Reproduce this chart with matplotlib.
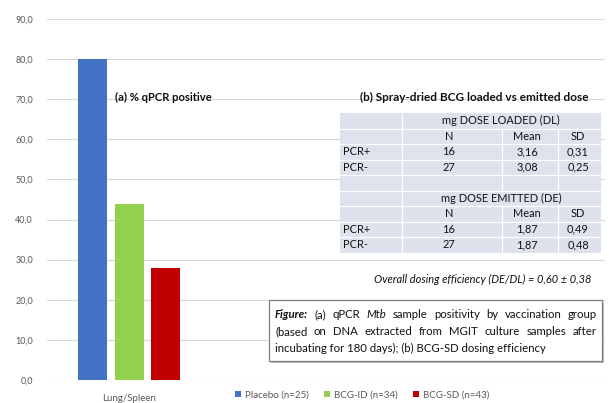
import numpy as np
import matplotlib
matplotlib.use("Agg")
import matplotlib.pyplot as plt
from matplotlib.patches import Rectangle

plt.rcParams["font.family"] = ["Lato", "DejaVu Sans"]

# chart data
groups = ["Placebo (n=25)", "BCG-ID (n=34)", "BCG-SD (n=43)"]
pct_positive = [80.0, 44.0, 28.0]
bar_colors = ["#4472c4", "#92d050", "#c00000"]
category = "Lung/Spleen"

# table data
pcr_labels = ["PCR+", "PCR-"]
pcr_n = [16, 27]
dl_mean = [3.16, 3.08]
dl_sd = [0.31, 0.25]
de_mean = [1.87, 1.87]
de_sd = [0.49, 0.48]
efficiency_mean = 0.60
efficiency_sd = 0.38

W, H = 609, 403
fig = plt.figure(figsize=(W / 100, H / 100), dpi=100)


def fx(x):
    return x / W


def fy(y):
    return 1 - y / H


def comma(v):
    return f"{v:.2f}".replace(".", ",")


# bar chart
ax = fig.add_axes([fx(47), fy(380), fx(605) - fx(47), fy(19) - fy(380)])
offsets = np.arange(len(groups)) - 1
ax.bar(offsets, pct_positive, width=0.8, color=bar_colors, label=groups, zorder=3)
ax.set_ylim(0, 90)
ax.set_xlim(-2.25, 13.04)
ax.set_yticks(np.arange(0, 91, 10))
ax.set_yticklabels([f"{v:.1f}".replace(".", ",") for v in np.arange(0, 91, 10)])
ax.set_xticks([0])
ax.set_xticklabels([category])
ax.grid(axis="y", color="#d9d9d9", lw=0.8, zorder=0)
for s in ax.spines.values():
    s.set_visible(False)
ax.tick_params(length=0, labelsize=6.5, labelcolor="#595959", pad=10)
ax.tick_params(axis="x", labelsize=7, pad=10)

fig.legend(loc="center", bbox_to_anchor=(fx(362), fy(395)), ncol=3, frameon=False,
           fontsize=7, labelcolor="#595959", handlelength=0.6, handleheight=0.6,
           handletextpad=0.4, columnspacing=1.6)

fig.text(fx(115), fy(97), "(a) % qPCR positive", fontsize=8.1, fontweight="bold",
         va="center", color="#111111")

# table (b)
fig.text(fx(474), fy(97), "(b) Spray-dried BCG loaded vs emitted dose", fontsize=8.5,
         fontweight="bold", ha="center", va="center", color="#111111")

top, rh = 113, 15.5
cols = [340, 402, 502, 558, 601]
nrows = 9
fig.patches.append(Rectangle((fx(cols[0]), fy(top + nrows * rh)), fx(cols[-1]) - fx(cols[0]),
                             fy(top) - fy(top + nrows * rh), transform=fig.transFigure,
                             facecolor="#dde2ed", edgecolor="none", zorder=5))
header_rows = {0, 5}
for r in range(nrows):
    y0, y1 = top + r * rh, top + (r + 1) * rh
    if r > 0:
        fig.add_artist(plt.Line2D([fx(cols[0]), fx(cols[-1])], [fy(y0), fy(y0)],
                                  color="white", lw=0.9, zorder=6))
    xs = [cols[1]] if r in header_rows else cols[1:4]
    for x in xs:
        fig.add_artist(plt.Line2D([fx(x), fx(x)], [fy(y0), fy(y1)],
                                  color="white", lw=0.9, zorder=6))

col_x = [343, 449, 527, 578]
tkw = dict(fontsize=7.9, va="center", color="#111111", zorder=7)


def row_text(r, vals):
    yc = fy(top + (r + 0.5) * rh)
    for i, v in enumerate(vals):
        if v == "":
            continue
        fig.text(fx(col_x[i]), yc, v, ha="left" if i == 0 else "center", **tkw)


blocks = [("mg DOSE LOADED (DL)", dl_mean, dl_sd, 0),
          ("mg DOSE EMITTED (DE)", de_mean, de_sd, 5)]
for title, means, sds, r0 in blocks:
    fig.text(fx(501), fy(top + (r0 + 0.5) * rh), title, ha="center", **tkw)
    row_text(r0 + 1, ["", "N", "Mean", "SD"])
    for k in range(len(pcr_labels)):
        row_text(r0 + 2 + k, [pcr_labels[k], str(pcr_n[k]), comma(means[k]), comma(sds[k])])

fig.text(fx(483), fy(279),
         f"Overall dosing efficiency (DE/DL) = {comma(efficiency_mean)} \u00b1 {comma(efficiency_sd)}",
         fontsize=7.9, style="italic", ha="center", va="center", color="#111111")

# caption box
bx0, bx1, by0, by1 = 269, 602, 300, 361
fig.patches.append(Rectangle((fx(bx0) + 0.003, fy(by1) - 0.004), fx(bx1) - fx(bx0), fy(by0) - fy(by1),
                             transform=fig.transFigure, facecolor="#bfbfbf",
                             edgecolor="none", zorder=4))
fig.patches.append(Rectangle((fx(bx0), fy(by1)), fx(bx1) - fx(bx0), fy(by0) - fy(by1),
                             transform=fig.transFigure, facecolor="white",
                             edgecolor="#7f7f7f", lw=0.9, zorder=5))

caption = [
    ([("Figure:", "bolditalic"), ("(a)", ""), ("qPCR", ""), ("Mtb", "italic"), ("sample", ""),
      ("positivity", ""), ("by", ""), ("vaccination", ""), ("group", "")], True),
    ([("(based", ""), ("on", ""), ("DNA", ""), ("extracted", ""), ("from", ""), ("MGIT", ""),
      ("culture", ""), ("samples", ""), ("after", "")], True),
    ([("incubating for 180 days); (b) BCG-SD dosing efficiency", "")], False),
]
lx0, lx1 = 275, 597
line_texts = []
for li, (words, justify) in enumerate(caption):
    yc = fy(315 + li * 16.5)
    texts = []
    for w, st in words:
        kw = dict(fontsize=8.2, va="center", ha="left", color="#111111", zorder=7)
        if "bold" in st:
            kw["fontweight"] = "bold"
        if "italic" in st:
            kw["style"] = "italic"
        texts.append(fig.text(fx(300), yc, w, **kw))
    line_texts.append((texts, justify))

fig.canvas.draw()
renderer = fig.canvas.get_renderer()
for texts, justify in line_texts:
    widths = [t.get_window_extent(renderer).width for t in texts]
    gap = (lx1 - lx0 - sum(widths)) / (len(texts) - 1) if justify and len(texts) > 1 else 0
    x = lx0
    for t, wd in zip(texts, widths):
        t.set_x(fx(x))
        x += wd + gap

fig.savefig("out.png", dpi=100)
